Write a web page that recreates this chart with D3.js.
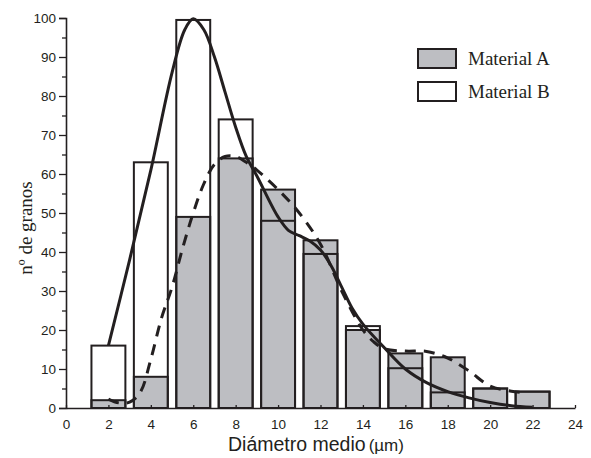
<!DOCTYPE html>
<html>
<head>
<meta charset="utf-8">
<script src="https://cdn.jsdelivr.net/npm/d3@7"></script>
<style>
  body { margin: 0; background: #fff; }
  svg { display: block; }
</style>
</head>
<body>
<div id="container"></div>
<script>
      // bin centres (µm)
      var bins = [2, 4, 6, 8, 10, 12, 14, 16, 18, 20, 22];
      // nº de granos per bin
      var materialA = [2, 8, 49, 64, 56, 43, 20, 14, 13, 5, 4.2];
      var materialB = [16, 63, 99.5, 74, 48, 39.5, 21, 10.2, 4, 5, 4.2];

      // fitted curves
      var curveBx = [2, 3, 4, 5, 5.6, 6, 6.5, 7, 7.5, 8, 8.5, 9, 10, 10.5, 11, 11.5, 12, 12.5, 13, 13.5, 14, 15, 16, 17, 18, 19, 20, 21, 22];
      var curveBy = [16, 38, 61, 86, 97, 99.8, 97, 90, 81, 72, 64.5, 59.5, 49, 45.5, 44.2, 42.8, 40.5, 36.5, 31, 25.5, 21.5, 15.5, 10, 6.5, 4.2, 2.6, 1.4, 0.6, 0.2];
      var curveAx = [2, 2.5, 3, 3.5, 4, 4.5, 5, 5.5, 6, 6.5, 7, 7.5, 8, 8.5, 9, 10, 11, 12, 13, 14, 14.5, 15, 16, 17, 18, 19, 20, 21, 21.5];
      var curveAy = [2.3, 1.3, 1.5, 4, 12.5, 23, 31, 41, 50, 57.5, 62.5, 64.5, 64.5, 63, 61, 56, 50, 42, 30, 20, 17, 15.2, 14.6, 14.5, 12.8, 9.5, 5.6, 4.3, 4];

      var xTicks = [0, 2, 4, 6, 8, 10, 12, 14, 16, 18, 20, 22, 24];
      var yTicks = [0, 10, 20, 30, 40, 50, 60, 70, 80, 90, 100];
      var yMinor = [5, 15, 25, 35, 45, 55, 65, 75, 85, 95];

      var legendLabels = ["Material A", "Material B"];

      var w = 591, h = 458;
      var margin = {left: 66, right: 16, top: 18, bottom: 50};
      var ink = "#231f20", grey = "#bdbec2";
      var barW = 1.6;

      var svg = d3.select("#container")
            .append("svg")
            .attr("width", w)
            .attr("height", h);

      var x = d3.scaleLinear().domain([0, 24]).range([margin.left, w - margin.right]);
      var y = d3.scaleLinear().domain([0, 100]).range([h - margin.bottom, margin.top]);

      var data = bins.map(function(b, i) { return {x: b, a: materialA[i], b: materialB[i]}; });

      //B fill first, then A, then B outline on top
      svg.selectAll("rect.bfill")
        .data(data).enter().append("rect")
        .attr("class", "bfill")
        .attr("x", function(d) { return x(d.x - barW / 2); })
        .attr("width", function(d) { return x(d.x + barW / 2) - x(d.x - barW / 2); })
        .attr("y", function(d) { return y(d.b); })
        .attr("height", function(d) { return y(0) - y(d.b); })
        .attr("fill", "#fff");

      svg.selectAll("rect.abar")
        .data(data).enter().append("rect")
        .attr("class", "abar")
        .attr("x", function(d) { return x(d.x - barW / 2); })
        .attr("width", function(d) { return x(d.x + barW / 2) - x(d.x - barW / 2); })
        .attr("y", function(d) { return y(d.a); })
        .attr("height", function(d) { return y(0) - y(d.a); })
        .attr("fill", grey)
        .attr("stroke", ink)
        .attr("stroke-width", 2);

      svg.selectAll("rect.bline")
        .data(data).enter().append("rect")
        .attr("class", "bline")
        .attr("x", function(d) { return x(d.x - barW / 2); })
        .attr("width", function(d) { return x(d.x + barW / 2) - x(d.x - barW / 2); })
        .attr("y", function(d) { return y(d.b); })
        .attr("height", function(d) { return y(0) - y(d.b); })
        .attr("fill", "none")
        .attr("stroke", ink)
        .attr("stroke-width", 2);

      //fitted curves
      var line = d3.line()
        .x(function(d) { return x(d[0]); })
        .y(function(d) { return y(d[1]); })
        .curve(d3.curveCatmullRom);

      svg.append("path")
        .attr("d", line(curveAx.map(function(v, i) { return [v, curveAy[i]]; })))
        .attr("fill", "none")
        .attr("stroke", ink)
        .attr("stroke-width", 3)
        .attr("stroke-dasharray", "11,8");

      svg.append("path")
        .attr("d", line(curveBx.map(function(v, i) { return [v, curveBy[i]]; })))
        .attr("fill", "none")
        .attr("stroke", ink)
        .attr("stroke-width", 3);

      //axes
      svg.append("g")
        .attr("transform", "translate(0," + y(0) + ")")
        .call(d3.axisBottom(x).tickValues(xTicks).tickSizeInner(-3).tickSizeOuter(0).tickPadding(11));
      svg.append("g")
        .attr("transform", "translate(" + x(0) + ",0)")
        .call(d3.axisLeft(y).tickValues(yTicks).tickSize(7).tickPadding(3));
      svg.append("g")
        .attr("transform", "translate(" + x(0) + ",0)")
        .call(d3.axisLeft(y).tickValues(yMinor).tickSize(4).tickFormat(""))
        .select(".domain").remove();

      svg.selectAll(".tick line").attr("stroke", ink).attr("stroke-width", 1.3);
      svg.selectAll(".domain").attr("stroke", ink).attr("stroke-width", 1.6);
      svg.selectAll(".tick text")
        .attr("font-family", "Liberation Sans, Arial, sans-serif")
        .attr("font-size", 13.5)
        .attr("fill", ink);

      //axis titles
      var xt = svg.append("text")
        .attr("x", 228)
        .attr("y", 451)
        .attr("font-family", "Liberation Sans, Arial, sans-serif")
        .attr("font-size", 19.5)
        .attr("fill", ink)
        .text("Diámetro medio");
      xt.append("tspan").attr("dx", 3).attr("font-size", 17).text("(µm)");

      svg.append("text")
        .attr("transform", "translate(32,228) rotate(-90)")
        .attr("text-anchor", "middle")
        .attr("font-family", "Liberation Serif, Times New Roman, serif")
        .attr("font-size", 19)
        .attr("fill", ink)
        .text("nº de granos");

      //legend
      var legend = svg.selectAll("g.legend")
        .data(legendLabels).enter().append("g")
        .attr("class", "legend")
        .attr("transform", function(d, i) { return "translate(418," + (49 + i * 33) + ")"; });
      legend.append("rect")
        .attr("width", 38).attr("height", 19)
        .attr("fill", function(d, i) { return i === 0 ? grey : "#fff"; })
        .attr("stroke", ink).attr("stroke-width", 2);
      legend.append("text")
        .attr("x", 50).attr("y", 16)
        .attr("font-family", "Liberation Serif, Times New Roman, serif")
        .attr("font-size", 19)
        .attr("fill", ink)
        .text(function(d) { return d; });
</script>
</body>
</html>
